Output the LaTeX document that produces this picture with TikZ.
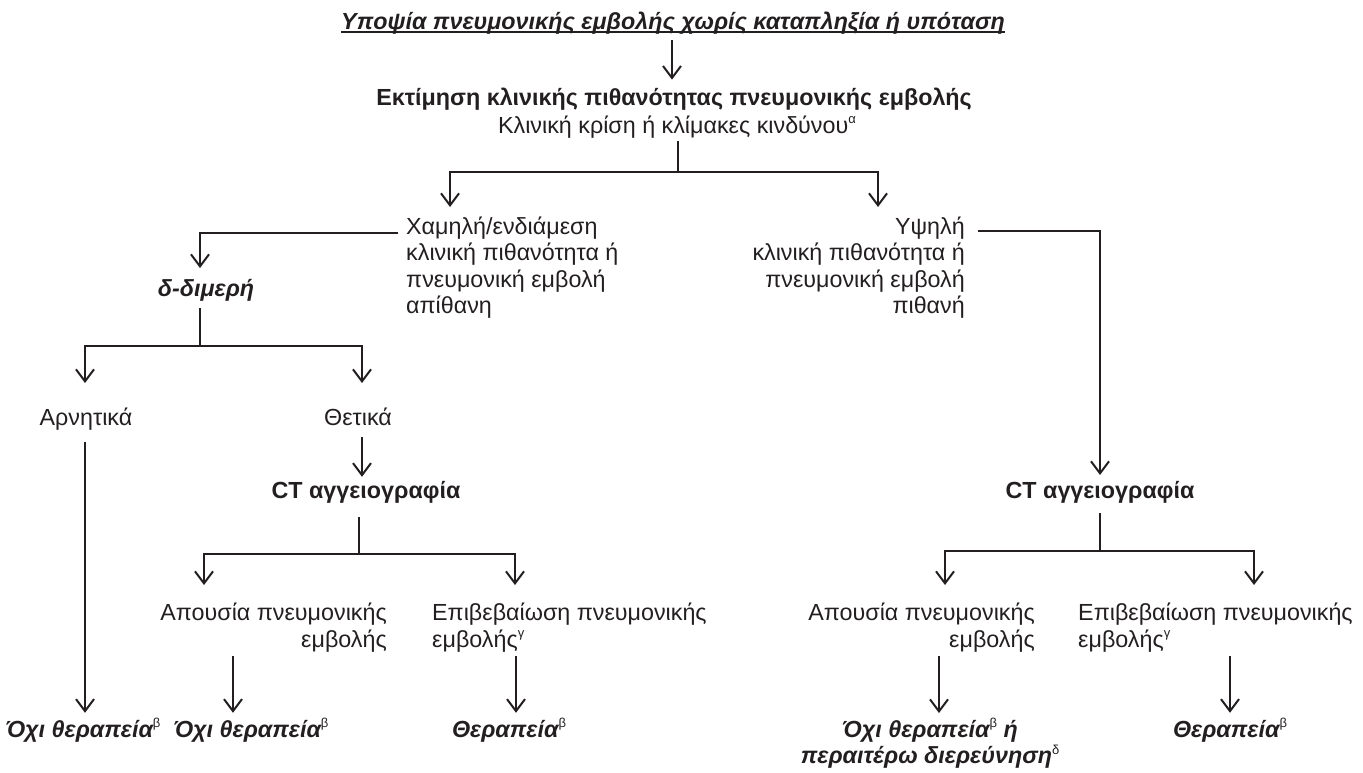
\documentclass[tikz,border=0pt]{standalone}
\usepackage{fontspec}
\setmainfont{Liberation Sans}
\usetikzlibrary{arrows.meta}
\definecolor{ink}{HTML}{231F20}
\newcommand{\sups}[1]{\raisebox{0.42em}{\fontsize{13}{13}\selectfont\upshape\mdseries #1}}
\begin{document}
\begin{tikzpicture}[x=1pt,y=-1pt,
  txt/.style={inner sep=0pt, font=\fontsize{23.3}{26.5}\selectfont, text=ink},
  bt/.style={txt, font=\fontsize{23.3}{26.5}\selectfont\bfseries},
  bit/.style={txt, font=\fontsize{23.3}{26.5}\selectfont\bfseries\itshape},
  conn/.style={draw=ink, line width=2pt},
  arr/.style={conn, -{Straight Barb[length=12pt,width=18pt]}}]
\useasboundingbox (0,0) rectangle (1363,772);

% top
\node[bit] (title) at (673,23) {Υποψία πνευμονικής εμβολής χωρίς καταπληξία ή υπόταση};
\draw[ink, line width=1.4pt] ([yshift=-2.8pt]title.base west) -- ([yshift=-2.8pt]title.base east);
\node[bt] (est) at (674,99) {Εκτίμηση κλινικής πιθανότητας πνευμονικής εμβολής};
\node[txt] (crit) at (677,127) {Κλινική κρίση ή κλίμακες κινδύνου\sups{α}};
\coordinate (tx) at (672,0);
\draw[arr, shorten <=6pt, shorten >=8pt] (title.south -| tx) -- (est.north -| tx);

% first split
\coordinate (j1) at (678,172);
\coordinate (lowtip) at (450,207);
\coordinate (hightip) at (878,207);
\draw[conn] (crit.south -| j1) ++(0,3) -- (j1);
\draw[arr] (j1) -| (lowtip);
\draw[arr] (j1) -| (hightip);

% low branch
\node[txt, align=left, anchor=west] (low) at (406,267.5) {Χαμηλή/ενδιάμεση\\κλινική πιθανότητα ή\\πνευμονική εμβολή\\απίθανη};
\coordinate (lowl) at (398,233);
\coordinate (ddtip) at (200,268);
\draw[arr] (lowl) -| (ddtip);
\node[bit] (dd) at (206,290) {δ-διμερή};
\coordinate (j2) at (200,346);
\draw[conn] (dd.south -| j2) ++(0,7) -- (j2);
\coordinate (negtip) at (85,383);
\coordinate (postip) at (362,383);
\draw[arr] (j2) -| (negtip);
\draw[arr] (j2) -| (postip);
\node[txt, anchor=base] (neg) at (86,425) {Αρνητικά};
\node[txt, anchor=base] (pos) at (358,425) {Θετικά};
\node[bit] (no1) at (83,730) {Όχι θεραπεία\sups{β}};
\coordinate (negx) at (85,442);
\draw[arr, shorten >=5pt] (negx) -- (no1.north -| negx);
\node[bt] (ct1) at (366,492) {CT αγγειογραφία};
\coordinate (posx) at (362,437);
\draw[arr, shorten >=4pt] (posx) -- (ct1.north -| posx);
\coordinate (j3) at (359,554);
\draw[conn] (ct1.south -| j3) ++(0,14) -- (j3);
\coordinate (abs1tip) at (204,585);
\coordinate (conf1tip) at (515,585);
\draw[arr] (j3) -| (abs1tip);
\draw[arr] (j3) -| (conf1tip);
\node[txt, align=right, anchor=east] (abs1) at (387,627.5) {Απουσία πνευμονικής\\εμβολής};
\node[txt, align=left, anchor=west] (conf1) at (432,627.5) {Επιβεβαίωση πνευμονικής\\εμβολής\sups{γ}};
\node[bit] (no2) at (251,730) {Όχι θεραπεία\sups{β}};
\node[bit] (tr1) at (509,730) {Θεραπεία\sups{β}};
\coordinate (a1x) at (233,0);
\coordinate (c1x) at (516,0);
\draw[arr, shorten <=4pt, shorten >=5pt] (abs1.south -| a1x) -- (no2.north -| a1x);
\draw[arr, shorten <=4pt, shorten >=5pt] (conf1.south -| c1x) -- (tr1.north -| c1x);

% high branch
\node[txt, align=right, anchor=east] (high) at (965,267.5) {Υψηλή\\κλινική πιθανότητα ή\\πνευμονική εμβολή\\πιθανή};
\coordinate (highr) at (978,231);
\coordinate (ct2tip) at (1100,475);
\draw[arr] (highr) -| (ct2tip);
\node[bt] (ct2) at (1100,492) {CT αγγειογραφία};
\coordinate (j4) at (1100,551);
\draw[conn] (ct2.south -| j4) ++(0,10) -- (j4);
\coordinate (abs2tip) at (945,585);
\coordinate (conf2tip) at (1254,585);
\draw[arr] (j4) -| (abs2tip);
\draw[arr] (j4) -| (conf2tip);
\node[txt, align=right, anchor=east] (abs2) at (1035,627.5) {Απουσία πνευμονικής\\εμβολής};
\node[txt, align=left, anchor=west] (conf2) at (1078,627.5) {Επιβεβαίωση πνευμονικής\\εμβολής\sups{γ}};
\node[bit, align=center] (no3) at (930,743.5) {Όχι θεραπεία\sups{β} ή\\περαιτέρω διερεύνηση\sups{δ}};
\node[bit] (tr2) at (1230,730) {Θεραπεία\sups{β}};
\coordinate (a2x) at (939,0);
\coordinate (c2x) at (1230,0);
\draw[arr, shorten <=4pt, shorten >=5pt] (abs2.south -| a2x) -- (no3.north -| a2x);
\draw[arr, shorten <=4pt, shorten >=5pt] (conf2.south -| c2x) -- (tr2.north -| c2x);
\end{tikzpicture}
\end{document}
